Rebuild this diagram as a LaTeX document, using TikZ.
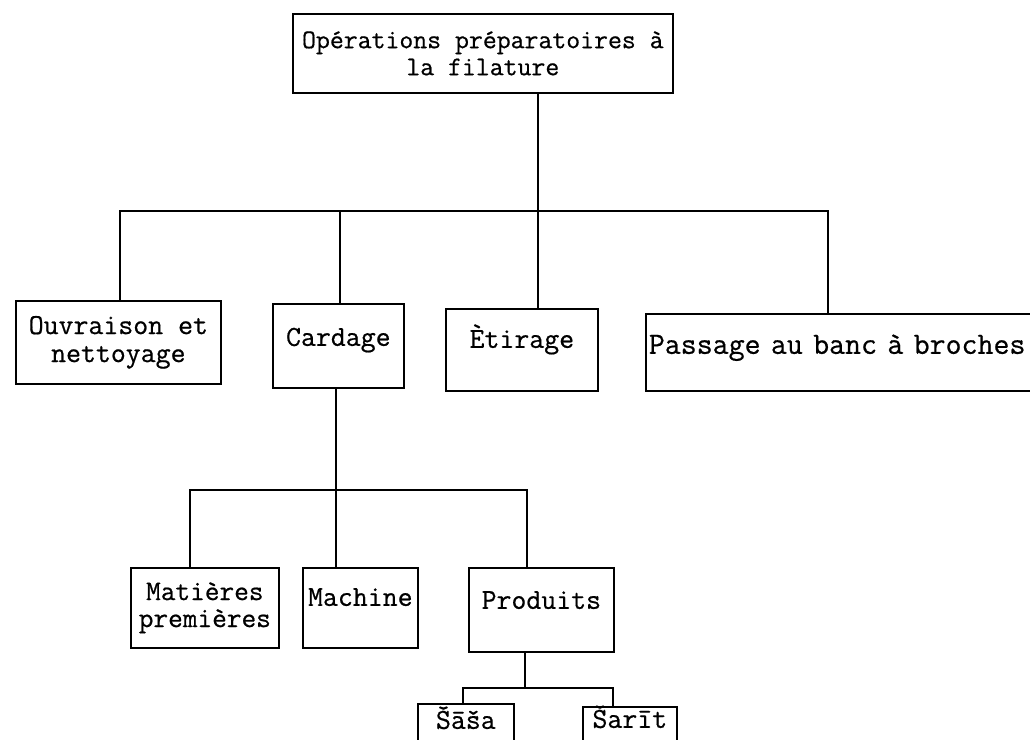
\documentclass[tikz,border=0pt]{standalone}
\usepackage{fontspec}
\setmonofont{Latin Modern Mono}[FakeBold=0.6]
\begin{document}
\begin{tikzpicture}[x=1pt,y=-1pt,
  every node/.style={inner sep=0pt, anchor=north west},
  box/.style={draw, line width=1.7pt, font=\ttfamily\fontsize{29}{27}\selectfont, align=center},
  conn/.style={line width=1.7pt, line join=miter}]
\useasboundingbox (0,0) rectangle (1030,739);
\clip (0,0) rectangle (1030,739);
% boxes
\node[box, minimum width=380pt, minimum height=79pt, font=\ttfamily\fontsize{27}{27}\selectfont] (root) at (292,13) {Opérations préparatoires à\\la filature};
\node[box, minimum width=205pt, minimum height=83pt, font=\ttfamily\fontsize{29}{28}\selectfont] (ouv) at (15,300) {Ouvraison et\\nettoyage};
\node[box, minimum width=131pt, text height=42pt, text depth=42pt] (card) at (272,303) {Cardage};
\node[box, minimum width=152pt, text height=39pt, text depth=43pt] (etir) at (445,308) {Ètirage};
\node[box, text width=394pt, align=left, inner xsep=3pt, text height=40pt, text depth=37pt, font=\ttfamily\fontsize{31}{30}\selectfont] (pass) at (645,313) {Passage au banc à broches};
\node[box, minimum width=148pt, minimum height=80pt, font=\ttfamily\fontsize{28.5}{27}\selectfont] (mat) at (130,567) {Matières\\premières};
\node[box, minimum width=115pt, text height=38pt, text depth=42pt] (mach) at (302,567) {Machine};
\node[box, minimum width=145pt, text height=41pt, text depth=43pt] (prod) at (468,567) {Produits};
\node[box, minimum width=96pt, text height=25pt, text depth=40pt] (sasa) at (417,703) {Šāša};
\node[box, minimum width=94pt, text height=21pt, text depth=40pt] (sarit) at (582,706) {Šarīt};
% junction coordinates
\coordinate (cO) at (120,211);
\coordinate (cC) at (340,211);
\coordinate (cE) at (538,211);
\coordinate (cP) at (828,211);
\coordinate (dM) at (190,490);
\coordinate (dC) at (336,490);
\coordinate (dP) at (527,490);
\coordinate (eS) at (463,688);
\coordinate (eP) at (525,688);
\coordinate (eT) at (613,688);
% connectors
\draw[conn] (ouv.north -| cO) -- (cO) -- (cP) -- (pass.north -| cP);
\draw[conn] (cC) -- (card.north -| cC);
\draw[conn] (root.south -| cE) -- (etir.north -| cE);
\draw[conn] (mat.north -| dM) -- (dM) -- (dP) -- (prod.north -| dP);
\draw[conn] (card.south -| dC) -- (mach.north -| dC);
\draw[conn] (sasa.north -| eS) -- (eS) -- (eT) -- (sarit.north -| eT);
\draw[conn] (prod.south -| eP) -- (eP);
\end{tikzpicture}
\end{document}
